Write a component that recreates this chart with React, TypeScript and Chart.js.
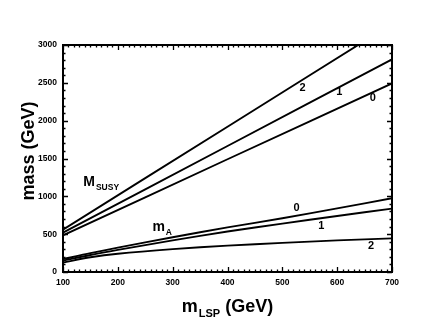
import React, { useEffect, useRef } from "react";
import { Chart, registerables } from "chart.js";

Chart.register(...registerables);

// m_LSP values (GeV)
const susyX = [100, 400, 700];
const susy0 = [485, 1490, 2493];
const susy1 = [520, 1665, 2810];
const susy2 = [560, 1920, 3280];

const mAX = [100, 150, 200, 300, 400, 500, 600, 700];
const mA0 = [170, 250, 322, 460, 590, 710, 840, 975];
const mA1 = [150, 225, 292, 418, 535, 640, 740, 838];
const mA2 = [125, 195, 242, 302, 348, 385, 418, 445];

const xTicks = [100, 200, 300, 400, 500, 600, 700];
const yTicks = [0, 500, 1000, 1500, 2000, 2500, 3000];
const xMinorStep = 10;
const yMinorStep = 100;

// curve labels: [text, x, y]
const curveLabels: [string, number, number][] = [
  ["2", 537, 2435],
  ["1", 604, 2374],
  ["0", 665, 2302],
  ["0", 526, 849],
  ["1", 571, 612],
  ["2", 662, 343],
];

const FONT = "'Liberation Sans', Arial, sans-serif";

function pts(xs: number[], ys: number[]) {
  return xs.map((x, i) => ({ x, y: ys[i] }));
}

const decorPlugin = {
  id: "decor",
  afterDraw(chart: any) {
    const ctx: CanvasRenderingContext2D = chart.ctx;
    const xs = chart.scales.x;
    const ys = chart.scales.y;
    const a = chart.chartArea;
    ctx.save();
    ctx.strokeStyle = "#000";
    ctx.fillStyle = "#000";
    // frame
    ctx.lineWidth = 2;
    ctx.strokeRect(a.left, a.top, a.right - a.left, a.bottom - a.top);
    // ticks
    ctx.lineWidth = 1.3;
    const xmin = xs.min, xmax = xs.max, ymin = ys.min, ymax = ys.max;
    for (let v = xmin; v <= xmax + 0.001; v += xMinorStep) {
      const px = Math.round(xs.getPixelForValue(v)) + 0.5;
      const major = xTicks.includes(Math.round(v));
      const len = major ? 5 : 2.5;
      ctx.beginPath();
      ctx.moveTo(px, a.bottom);
      ctx.lineTo(px, a.bottom - len);
      ctx.moveTo(px, a.top);
      ctx.lineTo(px, a.top + len);
      ctx.stroke();
    }
    for (let v = ymin; v <= ymax + 0.001; v += yMinorStep) {
      const py = Math.round(ys.getPixelForValue(v)) + 0.5;
      const major = yTicks.includes(Math.round(v));
      const len = major ? 5 : 2.5;
      ctx.beginPath();
      ctx.moveTo(a.left, py);
      ctx.lineTo(a.left + len, py);
      ctx.moveTo(a.right, py);
      ctx.lineTo(a.right - len, py);
      ctx.stroke();
    }
    // tick labels
    ctx.font = `bold 8.5px ${FONT}`;
    ctx.textAlign = "center";
    ctx.textBaseline = "top";
    xTicks.forEach((v) => {
      ctx.fillText(String(v), xs.getPixelForValue(v), a.bottom + 6);
    });
    ctx.textAlign = "right";
    ctx.textBaseline = "middle";
    yTicks.forEach((v) => {
      ctx.fillText(String(v), a.left - 6, ys.getPixelForValue(v));
    });
    // curve labels
    ctx.font = `bold 11px ${FONT}`;
    ctx.textAlign = "center";
    ctx.textBaseline = "middle";
    curveLabels.forEach(([t, x, y]) => {
      ctx.fillText(t, xs.getPixelForValue(x), ys.getPixelForValue(y));
    });
    // M_SUSY
    ctx.textAlign = "left";
    ctx.textBaseline = "alphabetic";
    let px = xs.getPixelForValue(137);
    let py = ys.getPixelForValue(1130);
    ctx.font = `bold 14px ${FONT}`;
    ctx.fillText("M", px, py);
    let w = ctx.measureText("M").width;
    ctx.font = `bold 8.5px ${FONT}`;
    ctx.fillText("SUSY", px + w + 1, py + 4);
    // m_A
    px = xs.getPixelForValue(263);
    py = ys.getPixelForValue(540);
    ctx.font = `bold 14px ${FONT}`;
    ctx.fillText("m", px, py);
    w = ctx.measureText("m").width;
    ctx.font = `bold 8.5px ${FONT}`;
    ctx.fillText("A", px + w + 1, py + 4);
    // x title
    ctx.font = `bold 18px ${FONT}`;
    const wm = ctx.measureText("m").width;
    const wg = ctx.measureText(" (GeV)").width;
    ctx.font = `bold 11px ${FONT}`;
    const wl = ctx.measureText("LSP").width;
    const total = wm + 1 + wl + wg;
    let sx = (a.left + a.right) / 2 - total / 2;
    const by = a.bottom + 40;
    ctx.font = `bold 18px ${FONT}`;
    ctx.fillText("m", sx, by);
    ctx.font = `bold 11px ${FONT}`;
    ctx.fillText("LSP", sx + wm + 1, by + 5);
    ctx.font = `bold 18px ${FONT}`;
    ctx.fillText(" (GeV)", sx + wm + 1 + wl, by);
    // y title
    ctx.save();
    ctx.translate(34, (a.top + a.bottom) / 2 - 7.5);
    ctx.rotate(-Math.PI / 2);
    ctx.font = `bold 18px ${FONT}`;
    ctx.textAlign = "center";
    ctx.fillText("mass (GeV)", 0, 0);
    ctx.restore();
    ctx.restore();
  },
};

export default function App() {
  const ref = useRef<HTMLCanvasElement>(null);
  useEffect(() => {
    if (!ref.current) return;
    const line = (data: { x: number; y: number }[]) => ({
      data,
      borderColor: "#000",
      borderWidth: 1.9,
      pointRadius: 0,
      tension: 0.3,
      fill: false,
    });
    const chart = new Chart(ref.current, {
      type: "line",
      data: {
        datasets: [
          line(pts(susyX, susy0)),
          line(pts(susyX, susy1)),
          line(pts(susyX, susy2)),
          line(pts(mAX, mA0)),
          line(pts(mAX, mA1)),
          line(pts(mAX, mA2)),
        ],
      },
      options: {
        animation: false,
        responsive: false,
        maintainAspectRatio: false,
        layout: { padding: { left: 63, right: 40, top: 45, bottom: 51 } },
        plugins: { legend: { display: false }, tooltip: { enabled: false } },
        scales: {
          x: { type: "linear", min: 100, max: 700, display: false },
          y: { type: "linear", min: 0, max: 3000, display: false },
        },
      },
      plugins: [decorPlugin],
    });
    return () => chart.destroy();
  }, []);
  return (
    <div style={{ position: "fixed", left: 0, top: 0, width: 432, height: 323, background: "#fff" }}>
      <canvas ref={ref} width={432} height={323} style={{ width: 432, height: 323 }} />
    </div>
  );
}
